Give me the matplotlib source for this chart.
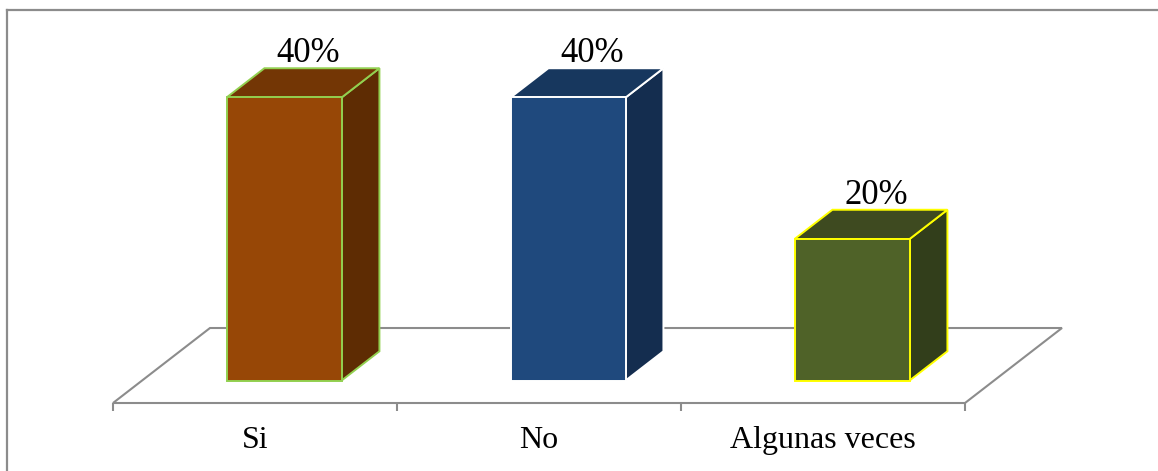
import matplotlib.pyplot as plt
from matplotlib.patches import Polygon
from matplotlib.lines import Line2D

# datos
categorias = ["Si", "No", "Algunas veces"]
valores = [40, 40, 20]
etiquetas = ["40%", "40%", "20%"]

color_frente = ["#974706", "#1F497D", "#4F6228"]
color_techo = ["#733605", "#17375E", "#3E4A20"]
color_lado = ["#5E2C03", "#142D4F", "#323E1B"]
color_borde = ["#92D050", "#FFFFFF", "#FFFF00"]

# proyeccion 3D simple (profundidad d en [0, 1])
DX, DY = 0.3415, 10.6
Y0 = -3.25
ANCHO = 0.405
D_BARRA = (0.30, 0.69)


def proy(x, z, d):
    return (x + d * DX, z + d * DY + Y0)


fig = plt.figure(figsize=(11.58, 4.71), dpi=100)
ax = fig.add_axes([0, 0, 1, 1])
ax.set_xlim(-0.8979, 3.1796)
ax.set_ylim(-12.86, 53.71)
ax.axis("off")

gris = "#8C8C8C"
n = len(categorias)

# piso
x0, x1 = -0.5, n - 0.5
piso = [proy(x0, 0, 0), proy(x1, 0, 0), proy(x1, 0, 1), proy(x0, 0, 1)]
ax.add_patch(Polygon(piso, closed=True, fill=False, edgecolor=gris, lw=1.5))
for i in range(n + 1):
    xt = -0.5 + i
    px, py = proy(xt, 0, 0)
    ax.plot([px, px], [py, py - 1.1], color=gris, lw=1.5, solid_capstyle="butt")

# barras
for i, (v, lab) in enumerate(zip(valores, etiquetas)):
    xa, xb = i - ANCHO / 2, i + ANCHO / 2
    d0, d1 = D_BARRA
    frente = [proy(xa, 0, d0), proy(xb, 0, d0), proy(xb, v, d0), proy(xa, v, d0)]
    techo = [proy(xa, v, d0), proy(xb, v, d0), proy(xb, v, d1), proy(xa, v, d1)]
    lado = [proy(xb, 0, d0), proy(xb, 0, d1), proy(xb, v, d1), proy(xb, v, d0)]
    kw = dict(closed=True, edgecolor=color_borde[i], lw=1.4, joinstyle="miter")
    ax.add_patch(Polygon(lado, facecolor=color_lado[i], **kw))
    ax.add_patch(Polygon(techo, facecolor=color_techo[i], **kw))
    ax.add_patch(Polygon(frente, facecolor=color_frente[i], **kw))
    tx = proy(i, v, 0.545)[0]
    ty = proy(i, v, d1)[1]
    ax.text(tx, ty - 0.3, lab, ha="center", va="bottom",
            fontsize=25, family="Liberation Serif")
    cx, cy = proy(i, 0, 0)
    ax.text(cx, -8.6, categorias[i], ha="center", va="center",
            fontsize=23, family="Liberation Serif")

# marco
fig.add_artist(Line2D([7.5 / 1158, 7.5 / 1158], [0, 1 - 9.5 / 471],
                      transform=fig.transFigure, color=gris, lw=1.6))
fig.add_artist(Line2D([7.5 / 1158, 1157 / 1158], [1 - 9.5 / 471, 1 - 9.5 / 471],
                      transform=fig.transFigure, color=gris, lw=1.6))

fig.savefig("out.png", dpi=100)
